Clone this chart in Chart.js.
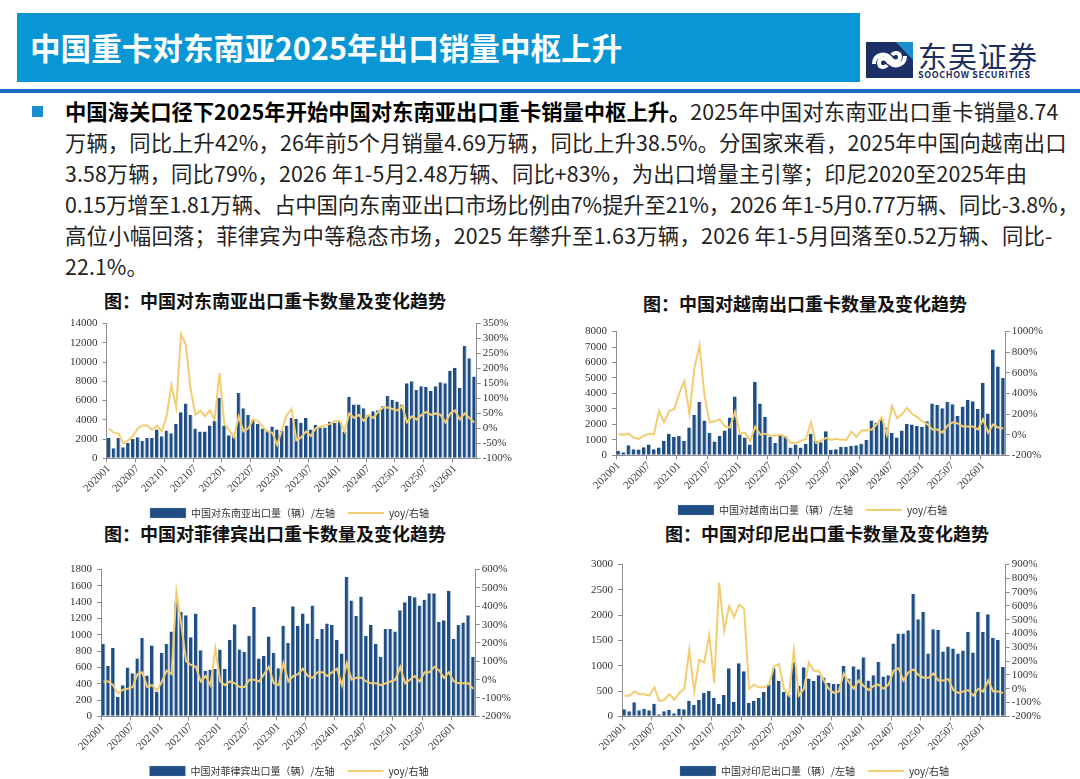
<!DOCTYPE html>
<html>
<head>
<meta charset="utf-8">
<script src="https://cdn.jsdelivr.net/npm/chart.js@4.4.1/dist/chart.umd.min.js"></script>
<style>
  body { margin: 0; width: 1080px; height: 779px; background: #fff; position: relative; overflow: hidden;
         font-family: "Noto Sans CJK SC", "Noto Sans", sans-serif; }
  .abs { position: absolute; }
  #header { left: 17px; top: 13px; width: 843px; height: 69px; background: #0896d5; }
  #title { left: 30px; top: 13px; height: 69px; line-height: 69px; color: #fff; font-size: 30.6px; font-weight: bold; white-space: nowrap; }
  #rule { left: 0; top: 89px; width: 1080px; height: 4px; background: #1b6fc0; }
  #bullet { left: 32px; top: 106px; width: 11px; height: 11px; background: #1a8fd0; }
  #para { left: 65px; top: 95px; font-size: 21.3px; line-height: 31px; color: #222; letter-spacing: 0.12px; }
  #para div { white-space: nowrap; }
  #para b { color: #000; letter-spacing: 0; }
  .ctitle { font-size: 18px; font-weight: bold; color: #111; white-space: nowrap; transform: translateX(-50%); }
  .wrap { position: absolute; }
</style>
</head>
<body>
<div id="header" class="abs"></div>
<div id="title" class="abs">中国重卡对东南亚2025年出口销量中枢上升</div>
<div id="rule" class="abs"></div>

<svg class="abs" style="left:866px;top:42px" width="47" height="36" viewBox="0 0 47 36">
  <rect x="0" y="0" width="47" height="36" fill="#1c2f66"/>
  <path d="M30 0 L47 0 L47 18 Z" fill="#1a8fd0"/>
  <path d="M8 22 C8 12 20 10 24 16 L22 19 C19 15 13 16 13 21 C13 26 19 26 21 23" fill="none" stroke="#fff" stroke-width="4"/>
  <path d="M39 14 C39 24 27 26 23 20 L25 17 C28 21 34 20 34 15 C34 10 28 10 26 13" fill="none" stroke="#fff" stroke-width="4"/>
</svg>
<div class="abs" style="left:918px;top:34px;font-size:29px;color:#1c2f5e;letter-spacing:1px;white-space:nowrap">东吴证券</div>
<div class="abs" style="left:918px;top:68px;font-size:9px;font-weight:bold;color:#1c2f5e;letter-spacing:0.6px;white-space:nowrap">SOOCHOW SECURITIES</div>

<div id="bullet" class="abs"></div>
<div id="para" class="abs">
  <div><b>中国海关口径下2025年开始中国对东南亚出口重卡销量中枢上升。</b>2025年中国对东南亚出口重卡销量8.74</div>
  <div>万辆，同比上升42%，26年前5个月销量4.69万辆，同比上升38.5%。分国家来看，2025年中国向越南出口</div>
  <div>3.58万辆，同比79%，2026 年1-5月2.48万辆、同比+83%，为出口增量主引擎；印尼2020至2025年由</div>
  <div style="letter-spacing:-0.1px">0.15万增至1.81万辆、占中国向东南亚出口市场比例由7%提升至21%，2026 年1-5月0.77万辆、同比-3.8%，</div>
  <div style="letter-spacing:0.3px">高位小幅回落；菲律宾为中等稳态市场，2025 年攀升至1.63万辆，2026 年1-5月回落至0.52万辆、同比-</div>
  <div>22.1%。</div>
</div>

<div class="abs ctitle" style="left:275px;top:287px">图：中国对东南亚出口重卡数量及变化趋势</div>
<div class="abs ctitle" style="left:805px;top:290px">图：中国对越南出口重卡数量及变化趋势</div>
<div class="abs ctitle" style="left:275px;top:520px">图：中国对菲律宾出口重卡数量及变化趋势</div>
<div class="abs ctitle" style="left:827px;top:520px">图：中国对印尼出口重卡数量及变化趋势</div>

<div class="wrap" style="left:65px;top:312px;width:449px;height:216px"><canvas id="c1"></canvas></div>
<div class="wrap" style="left:580px;top:320px;width:465px;height:205px"><canvas id="c2"></canvas></div>
<div class="wrap" style="left:65px;top:558px;width:448px;height:228px"><canvas id="c3"></canvas></div>
<div class="wrap" style="left:586px;top:553px;width:457px;height:233px"><canvas id="c4"></canvas></div>

<script>
// 月份
const months = [
  '202001','202002','202003','202004','202005','202006','202007','202008','202009','202010','202011','202012',
  '202101','202102','202103','202104','202105','202106','202107','202108','202109','202110','202111','202112',
  '202201','202202','202203','202204','202205','202206','202207','202208','202209','202210','202211','202212',
  '202301','202302','202303','202304','202305','202306','202307','202308','202309','202310','202311','202312',
  '202401','202402','202403','202404','202405','202406','202407','202408','202409','202410','202411','202412',
  '202501','202502','202503','202504','202505','202506','202507','202508','202509','202510','202511','202512',
  '202601','202602','202603','202604','202605'
];

// 东南亚
const seaVolume = [
  2100,1050,2100,1150,1600,2000,2200,1800,2100,2100,3000,2300,
  2900,2600,3600,4800,5700,4500,3100,2800,2800,3400,3900,6300,
  3400,2400,2300,6800,5200,4500,4000,3600,3100,2900,3300,3000,
  2900,3400,4200,4100,3700,4200,3000,3500,3200,3200,3800,3700,
  3800,2800,6400,5600,5600,5200,4500,4900,5000,5400,6500,6100,
  5900,5600,7800,8000,7100,7500,7400,7000,7500,7900,7800,9100,
  9400,7300,11700,10400,8500
];
const seaYoy = [
  0,-15,-17,-50,-40,-25,0,10,10,-5,10,-10,
  40,145,70,315,280,130,45,60,40,60,30,185,
  15,-5,-30,40,-10,0,30,25,5,-10,-15,-55,
  -5,45,65,-40,-30,-10,-25,0,5,10,15,25,
  25,-10,50,35,45,25,45,35,55,70,70,65,
  60,75,20,40,30,45,55,45,50,45,20,50,
  60,30,50,35,20
];

// 越南
const vnVolume = [
  300,200,650,400,380,520,700,400,500,950,1400,1200,
  1250,950,1800,2600,3450,2250,1450,900,1250,1600,2450,3800,
  1350,1150,700,4750,3350,2500,1200,800,1250,1250,500,700,
  500,750,1400,950,850,1550,350,400,550,550,600,650,
  750,1000,2250,2100,2350,1800,1450,1150,1600,2050,2000,1900,
  1850,2200,3350,3250,3050,3450,3300,2550,3150,3600,3500,3000,
  4700,2700,6850,5750,5000
];
const vnYoy = [
  5,0,10,-30,-40,-10,10,5,230,120,230,250,
  400,520,200,650,870,370,120,130,150,80,70,220,
  10,20,-60,80,0,10,-10,-10,0,-20,-80,-80,
  -60,-40,120,-80,-60,-30,-50,-40,-50,-50,30,-20,
  40,40,50,100,170,0,280,160,200,260,200,170,
  130,100,50,50,20,90,120,110,80,80,80,50,
  150,20,100,70,60
];

// 菲律宾
const phVolume = [
  890,620,840,240,380,600,530,710,960,500,870,300,
  780,890,1040,1400,1280,1240,970,1260,810,560,570,580,
  820,580,940,1130,820,790,990,1340,710,740,980,780,
  590,1110,900,1350,1110,1260,1140,1360,950,1070,1140,1120,
  940,770,1710,1420,1230,1470,990,1120,890,730,1070,1070,
  1040,1300,1400,1480,1460,1360,1430,1510,1510,1160,1180,1540,
  950,1120,1150,1240,730
];
const phYoy = [
  -10,-10,-30,-75,-55,-50,-40,30,40,-40,-30,-60,
  -10,50,30,480,300,100,80,70,-10,20,-30,170,
  -10,-30,-10,-20,-40,-40,0,0,-10,30,70,-20,
  -30,90,-10,20,30,60,20,10,40,40,20,40,
  60,-30,90,0,10,10,-10,-20,-20,-30,-20,-10,
  0,70,-20,0,20,-10,40,40,70,50,10,40,
  -10,-20,-20,-20,-50
];

// 印尼
const idVolume = [
  140,100,280,120,150,120,250,40,100,130,60,150,
  140,310,230,330,460,500,360,250,420,950,290,1050,
  890,270,310,360,480,640,950,700,480,420,1070,600,
  970,750,700,810,770,660,640,640,1000,750,990,930,
  1170,710,810,1080,790,810,1440,1640,1640,1700,2420,1920,
  2070,1240,1720,1710,1280,1380,1340,1240,1300,1670,1260,2070,
  1670,2020,1550,1510,980
];
const idYoy = [
  -50,-50,-20,-40,-40,-50,10,-90,-80,-40,-80,-30,
  0,280,-20,210,190,390,40,770,420,600,520,610,
  580,0,30,10,10,30,160,180,0,-50,280,-50,
  0,190,130,130,60,0,-30,-20,110,50,0,60,
  20,-10,20,30,0,30,130,150,60,120,140,100,
  80,80,110,60,60,70,-10,-30,-20,-10,-50,0,
  -20,60,-20,-20,-30
];

const barColor = '#1f4e84';
const lineColor = '#f3cd72';
const axisColor = '#8c8c8c';
const tickFont = { family: 'Liberation Serif', size: 11 };

function makeChart(id, barLabel, volume, yoy, leftMax, leftStep, rightMin, rightMax, rightStep) {
  const ctx = document.getElementById(id).getContext('2d');
  return new Chart(ctx, {
    type: 'bar',
    data: {
      labels: months,
      datasets: [
        {
          type: 'bar',
          label: barLabel,
          data: volume,
          backgroundColor: barColor,
          borderColor: '#a9bdd3',
          borderWidth: { left: 0, top: 0, bottom: 0, right: 1 },
          borderSkipped: 'bottom',
          categoryPercentage: 0.86,
          barPercentage: 1,
          yAxisID: 'y',
          pointStyle: 'rect',
          order: 1
        },
        {
          type: 'line',
          label: 'yoy/右轴',
          data: yoy,
          borderColor: lineColor,
          backgroundColor: lineColor,
          borderWidth: 2,
          pointRadius: 0,
          tension: 0,
          yAxisID: 'y1',
          pointStyle: 'line',
          order: 0
        }
      ]
    },
    options: {
      responsive: true,
      maintainAspectRatio: false,
      animation: false,
      layout: { padding: { top: 4, left: 0, right: 0, bottom: 0 } },
      plugins: {
        tooltip: { enabled: false },
        legend: {
          position: 'bottom',
          labels: {
            usePointStyle: true,
            pointStyleWidth: 36,
            boxHeight: 11,
            padding: 13,
            color: '#333',
            font: { family: 'Noto Sans CJK SC', size: 10 },
            sort: (a, b) => a.datasetIndex - b.datasetIndex
          }
        }
      },
      scales: {
        x: {
          offset: true,
          grid: {
            drawOnChartArea: false,
            tickLength: 4,
            color: (c) => (c.index % 6 === 0 ? axisColor : 'rgba(0,0,0,0)')
          },
          border: { display: true, color: axisColor },
          ticks: {
            autoSkip: false,
            minRotation: 45,
            maxRotation: 45,
            color: '#444',
            font: tickFont,
            padding: 0,
            callback: function (v, i) { return i % 6 === 0 ? months[i] : ''; }
          }
        },
        y: {
          position: 'left',
          min: 0,
          max: leftMax,
          grid: { drawOnChartArea: false, tickLength: 4, color: axisColor },
          border: { display: true, color: axisColor },
          ticks: {
            stepSize: leftStep,
            autoSkip: false,
            color: '#333',
            font: tickFont,
            padding: 5,
            callback: (v) => String(v)
          }
        },
        y1: {
          position: 'right',
          min: rightMin,
          max: rightMax,
          grid: { drawOnChartArea: false, tickLength: 4, color: axisColor },
          border: { display: true, color: axisColor },
          ticks: {
            stepSize: rightStep,
            autoSkip: false,
            color: '#333',
            font: tickFont,
            padding: 2,
            callback: (v) => v + '%'
          }
        }
      }
    }
  });
}

makeChart('c1', '中国对东南亚出口量（辆）/左轴', seaVolume, seaYoy, 14000, 2000, -100, 350, 50);
makeChart('c2', '中国对越南出口量（辆）/左轴', vnVolume, vnYoy, 8000, 1000, -200, 1000, 200);
makeChart('c3', '中国对菲律宾出口量（辆）/左轴', phVolume, phYoy, 1800, 200, -200, 600, 100);
makeChart('c4', '中国对印尼出口量（辆）/左轴', idVolume, idYoy, 3000, 500, -200, 900, 100);
</script>
</body>
</html>
